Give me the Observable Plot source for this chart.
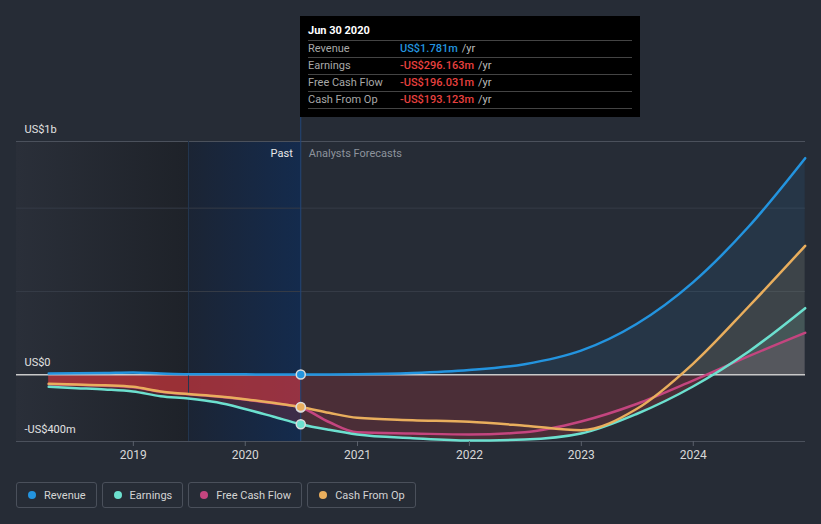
<!DOCTYPE html>
<html>
<head>
<meta charset="utf-8">
<script src="https://cdn.jsdelivr.net/npm/d3@7"></script>
<script src="https://cdn.jsdelivr.net/npm/@observablehq/plot@0.6"></script>
<style>
  html, body { margin: 0; padding: 0; background: #262c36; }
  body { width: 821px; height: 524px; overflow: hidden; font-family: Roboto, "Noto Sans", sans-serif; }
  #wrap { position: relative; width: 821px; height: 470px; }
  #tip { position: absolute; left: 300px; top: 16px; width: 340px; height: 101px; background: #000; box-sizing: border-box; padding: 7px 8px 0 8px; font-size: 11px; }
  #tip .title { color: #fff; font-weight: 700; height: 17px; line-height: 16px; border-bottom: 1px solid #444; }
  #tip .row { height: 16px; line-height: 16px; border-bottom: 1px solid #444; display: flex; }
  #tip .lab { color: #a8a8a8; width: 92px; }
  #tip .val { font-weight: 500; }
  #tip .unit { color: #bdbdbd; margin-left: 4px; }
  #legend { position: absolute; left: 16px; top: 482px; display: flex; gap: 5px; }
  .item { height: 26px; box-sizing: border-box; border: 1px solid #4a505b; border-radius: 3px; display: flex; align-items: center; padding: 0 10px 0 11px; color: #d4d4d4; font-size: 11px; }
  .item .dot { width: 8px; height: 8px; border-radius: 50%; margin-right: 8px; }
</style>
</head>
<body>
<div id="wrap"></div>
<div id="legend"></div>
<script>
// ---- data ----
const dates = ["2018-03-31","2018-06-30","2018-09-30","2018-12-31","2019-03-31","2019-06-30","2019-09-30","2019-12-31","2020-03-31","2020-06-30",
               "2020-09-30","2020-12-31","2021-06-30","2021-12-31","2022-06-30","2022-12-31","2023-06-30","2023-12-31","2024-06-30","2024-12-31"];
const revenue  = [8, 9, 11, 14, 8, 4, 4, 3, 2, 1.781, 1.8, 3, 11, 29, 64, 145, 305, 555, 890, 1300];
const earnings = [-72, -80, -88, -100, -128, -142, -165, -205, -250, -296.163, -330, -358, -380, -394, -388, -352, -235, -70, 140, 400];
const fcf      = [-56, -60, -65, -74, -102, -117, -130, -148, -171, -196.031, -283, -345, -352, -358, -345, -280, -175, -35, 112, 252];
const cfo      = [-54, -58, -63, -72, -100, -115, -128, -146, -168, -193.123, -228, -258, -272, -282, -305, -332, -205, 66, 410, 774];

const seriesNames  = ["Revenue", "Earnings", "Free Cash Flow", "Cash From Op"];
const seriesColors = ["#2394df", "#6ce0cf", "#c4457f", "#e9ae5d"];
const tooltipDate  = "Jun 30 2020";
const tooltipValues = ["US$1.781m", "-US$296.163m", "-US$196.031m", "-US$193.123m"];

const xDomain = ["2017-12-16", "2025-01-01"];
const highlightStart = "2019-06-30";
const hoverDate = "2020-06-30";
const yDomain = [-400, 1400];
const gridValues = [500, 1000];
const frameValues = [-400, 1400];
const yLabels = [{v: 1400, t: "US$1b"}, {v: 0, t: "US$0"}, {v: -400, t: "-US$400m"}];
const xTicks = ["2019-01-01","2020-01-01","2021-01-01","2022-01-01","2023-01-01","2024-01-01"];

// ---- build ----
const parse = d3.utcParse("%Y-%m-%d");
const rows = dates.map((d, i) => ({date: parse(d), revenue: revenue[i], earnings: earnings[i], fcf: fcf[i], cfo: cfo[i]}));
const hover = parse(hoverDate);
const past = rows.filter(r => r.date <= hover);
const hoverRow = rows.find(r => +r.date === +hover);
const keys = ["revenue", "earnings", "fcf", "cfo"];
const color = Object.fromEntries(keys.map((k, i) => [k, seriesColors[i]]));
const curve = "monotone-x";

const chart = Plot.plot({
  width: 821, height: 470,
  marginTop: 141, marginBottom: 29, marginLeft: 16, marginRight: 16,
  style: {background: "transparent", color: "#d6d6d6", fontFamily: "Roboto, sans-serif", fontSize: "11px", overflow: "visible"},
  x: {type: "utc", domain: xDomain.map(parse)},
  y: {domain: yDomain, axis: null},
  marks: [
    Plot.rect([{a: parse(xDomain[0]), b: parse(highlightStart)}], {x1: "a", x2: "b", fill: "url(#pastGrad)"}),
    Plot.rect([{a: parse(highlightStart), b: hover}], {x1: "a", x2: "b", fill: "url(#hiGrad)"}),
    Plot.ruleY(gridValues, {stroke: "#353b46", strokeWidth: 1}),
    Plot.ruleY(frameValues, {stroke: "#4b515c", strokeWidth: 1}),
    // positive fills
    Plot.areaY(rows, {x: "date", y1: 0, y2: "revenue", fill: color.revenue, fillOpacity: 0.1, curve}),
    Plot.areaY(rows, {x: "date", y1: 0, y2: "fcf", fill: color.fcf, fillOpacity: 0.14, curve, ariaDescription: "pos"}),
    Plot.areaY(rows, {x: "date", y1: 0, y2: "earnings", fill: color.earnings, fillOpacity: 0.12, curve, ariaDescription: "pos"}),
    Plot.areaY(rows, {x: "date", y1: 0, y2: "cfo", fill: color.cfo, fillOpacity: 0.12, curve, ariaDescription: "pos"}),
    // negative fills
    Plot.areaY(rows, {x: "date", y1: 0, y2: "earnings", fill: "#e0393e", fillOpacity: 0.2, curve, ariaDescription: "neg"}),
    Plot.areaY(past, {x: "date", y1: 0, y2: "fcf", fill: "#e0393e", fillOpacity: 0.55, curve, ariaDescription: "neg"}),
    Plot.ruleY([0], {stroke: "#c9c9c9", strokeWidth: 1.5}),
    Plot.ruleX([parse(highlightStart)], {stroke: "#23364f", strokeWidth: 1}),
    Plot.ruleX([hover], {stroke: "#22467a", strokeWidth: 1, insetTop: -25}),
    Plot.lineY(rows, {x: "date", y: "revenue", stroke: color.revenue, strokeWidth: 2.5, curve}),
    Plot.lineY(rows, {x: "date", y: "fcf", stroke: color.fcf, strokeWidth: 2.5, curve}),
    Plot.lineY(rows, {x: "date", y: "earnings", stroke: color.earnings, strokeWidth: 2.5, curve}),
    Plot.lineY(rows, {x: "date", y: "cfo", stroke: color.cfo, strokeWidth: 2.5, curve}),
    Plot.dot(["fcf", "revenue", "earnings", "cfo"], {x: () => hover, y: k => hoverRow[k], fill: k => color[k], r: 4.5, stroke: "#dcdcdc", strokeWidth: 1.5}),
    Plot.text(yLabels, {y: "v", text: "t", frameAnchor: "left", textAnchor: "start", dx: 8, dy: -12, fill: "#e2e2e2", fontSize: 11}),
    Plot.text(["Past"], {x: () => hover, y: () => yDomain[1], text: d => d, textAnchor: "end", dx: -8, dy: 12, fill: "#e8e8e8", fontSize: 11}),
    Plot.text(["Analysts Forecasts"], {x: () => hover, y: () => yDomain[1], text: d => d, textAnchor: "start", dx: 8, dy: 12, fill: "#8d939c", fontSize: 11}),
    Plot.axisX({ticks: xTicks.map(parse), tickFormat: d3.utcFormat("%Y"), tickSize: 5, tickPadding: 4, stroke: "#5b616c", fill: "#d8d8d8", fontSize: 12})
  ]
});

// gradients + clipping
const svg = d3.select(chart);
const y0 = chart.scale("y").apply(0);
const defs = svg.insert("defs", ":first-child");
const pg = defs.append("linearGradient").attr("id", "pastGrad").attr("x1", 0).attr("x2", 1).attr("y1", 0).attr("y2", 0);
pg.append("stop").attr("offset", 0).attr("stop-color", "#2a2f39");
pg.append("stop").attr("offset", 1).attr("stop-color", "#1e2229");
const hg = defs.append("linearGradient").attr("id", "hiGrad").attr("x1", 0).attr("x2", 1).attr("y1", 0).attr("y2", 0);
hg.append("stop").attr("offset", 0).attr("stop-color", "#1b2434");
hg.append("stop").attr("offset", 1).attr("stop-color", "#142b4d");
defs.append("clipPath").attr("id", "clipPos").append("rect").attr("x", 0).attr("y", 0).attr("width", 821).attr("height", y0);
defs.append("clipPath").attr("id", "clipNeg").append("rect").attr("x", 0).attr("y", y0).attr("width", 821).attr("height", 470 - y0);
svg.selectAll("g[aria-description=pos]").attr("clip-path", "url(#clipPos)");
svg.selectAll("g[aria-description=neg]").attr("clip-path", "url(#clipNeg)");

const wrap = document.getElementById("wrap");
wrap.appendChild(chart);

// tooltip
const tip = document.createElement("div");
tip.id = "tip";
let html = `<div class="title">${tooltipDate}</div>`;
seriesNames.forEach((n, i) => {
  const c = tooltipValues[i].startsWith("-") ? "#e8413f" : "#2394df";
  html += `<div class="row"><span class="lab">${n}</span><span class="val" style="color:${c}">${tooltipValues[i]}</span><span class="unit">/yr</span></div>`;
});
tip.innerHTML = html;
wrap.appendChild(tip);

// legend
const legend = document.getElementById("legend");
seriesNames.forEach((n, i) => {
  const it = document.createElement("div");
  it.className = "item";
  it.innerHTML = `<span class="dot" style="background:${seriesColors[i]}"></span><span>${n}</span>`;
  legend.appendChild(it);
});
</script>
</body>
</html>
